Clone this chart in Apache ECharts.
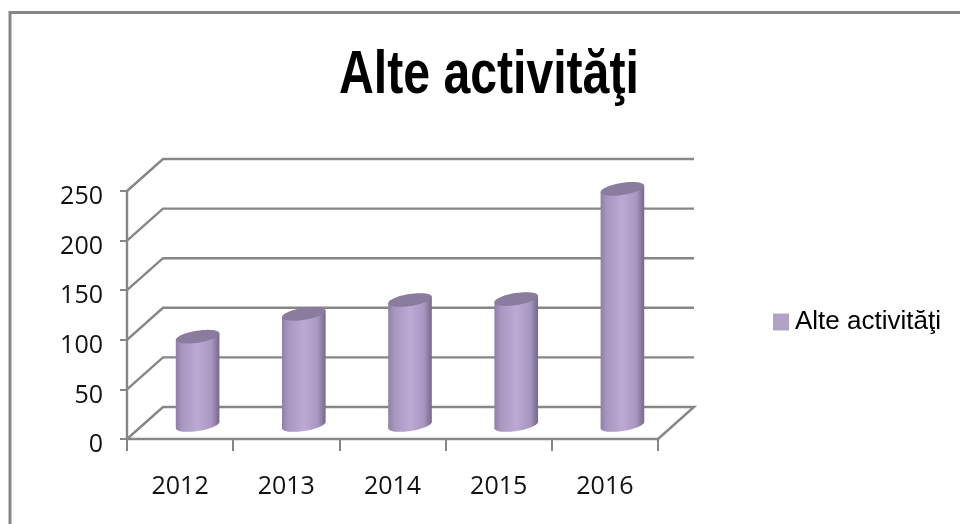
<!DOCTYPE html>
<html><head><meta charset="utf-8">
<style>html,body{margin:0;padding:0;background:#fff}#c{width:960px;height:524px}</style>
<script src="https://cdn.jsdelivr.net/npm/echarts@6/dist/echarts.min.js"></script>
</head><body><div id="c"></div>
<script>
const titleText = 'Alte activităţi';
const seriesName = 'Alte activităţi';
const categories = ['2012','2013','2014','2015','2016'];
const values = [89, 112, 126, 127, 238];
const yTicks = [0, 50, 100, 150, 200, 250];

const SANS = '"Liberation Sans",sans-serif';
const TICKFONT = '"Open Sans",sans-serif';
const GRID = '#868686';
const DEPTH_X = 36, DEPTH_Y = 32;
const BAR_DX = 17.5, BAR_DY = 14;
const TILT = -9 * Math.PI / 180;

function pt(cx, cy, rx, ry, t) {
  const x = rx * Math.cos(t), y = ry * Math.sin(t);
  return [cx + x * Math.cos(TILT) - y * Math.sin(TILT),
          cy + x * Math.sin(TILT) + y * Math.cos(TILT)];
}
function arc(cx, cy, rx, ry, t0, t1, n) {
  const pts = [];
  for (let i = 0; i <= n; i++) pts.push(pt(cx, cy, rx, ry, t0 + (t1 - t0) * i / n));
  return pts;
}

function renderWall(params, api) {
  const cs = params.coordSys;
  const v = api.value(1);
  const y = api.coord([0, v])[1];
  const xl = cs.x, xr = cs.x + cs.width;
  const line = { stroke: GRID, lineWidth: 2.4, fill: null };
  const pts = [[xl, y], [xl + DEPTH_X, y - DEPTH_Y], [xr + DEPTH_X, y - DEPTH_Y]];
  if (v === 0) pts.push([xr, y]);
  return { type: 'polyline', shape: { points: pts }, style: line, silent: true };
}

function renderBar(params, api) {
  const base = api.coord([api.value(0), 0]);
  const top = api.coord([api.value(0), api.value(1)]);
  const rx = api.size([1, 0])[0] * 0.208, ry = 6;
  const cx = base[0] + BAR_DX;
  const by = base[1] - BAR_DY, ty = top[1] - BAR_DY;
  const bottom = arc(cx, by, rx, ry, 0, Math.PI, 32);
  const rim = arc(cx, ty, rx, ry, 0, 2 * Math.PI, 48);
  const body = bottom.concat([pt(cx, ty, rx, ry, Math.PI), pt(cx, ty, rx, ry, 0)]);
  return { type: 'group', children: [
    { type: 'polygon', shape: { points: body }, style: { fill: {
      type: 'linear', x: 0, y: 0, x2: 1, y2: 0, colorStops: [
        { offset: 0, color: '#8f80a8' }, { offset: 0.14, color: '#a796bf' },
        { offset: 0.5, color: '#bcaad5' }, { offset: 0.82, color: '#a897c0' },
        { offset: 1, color: '#76678c' } ] } } },
    { type: 'polygon', shape: { points: rim }, style: { fill: '#8a7c9f' } }
  ] };
}

const chart = echarts.init(document.getElementById('c'), null, { renderer: 'canvas' });
chart.setOption({
  animation: false,
  backgroundColor: '#fff',
  legend: { data: [seriesName], left: 773, top: 309, padding: 0, itemWidth: 16, itemHeight: 17, itemGap: 0,
    icon: 'rect', textStyle: { fontFamily: SANS, fontSize: 26, color: '#000', padding: [0, 0, 0, 1] } },
  grid: { left: 127, top: 191, width: 531, height: 248 },
  xAxis: { type: 'category', data: categories,
    axisLine: { show: true, lineStyle: { color: GRID, width: 2.4 } },
    axisTick: { show: true, length: 12, alignWithLabel: false, lineStyle: { color: GRID, width: 2 } },
    axisLabel: { fontFamily: TICKFONT, fontSize: 25, color: '#111', margin: 35 } },
  yAxis: { type: 'value', min: 0, max: 250, interval: 50,
    splitLine: { show: false },
    axisLine: { show: true, lineStyle: { color: GRID, width: 2.4 } },
    axisTick: { show: true, length: 7, lineStyle: { color: GRID, width: 2 } },
    axisLabel: { fontFamily: TICKFONT, fontSize: 25, color: '#111', margin: 24, verticalAlign: 'top', lineHeight: 12 } },
  graphic: [
    { type: 'polyline', silent: true, z: -1,
      shape: { points: [[10, 524], [10, 12.5], [960, 12.5]] },
      style: { stroke: '#868686', lineWidth: 3, fill: null } },
    { type: 'text', silent: true, x: 339, y: 76, scaleX: 0.777,
      style: { text: titleText, font: 'bold 62px ' + SANS, fill: '#000', verticalAlign: 'middle', align: 'left' } }
  ],
  series: [
    { type: 'custom', name: 'walls', renderItem: renderWall, z: 1, silent: true,
      encode: { x: 0, y: 1 }, data: yTicks.map(v => [0, v]) },
    { type: 'custom', name: seriesName, renderItem: renderBar, z: 3,
      itemStyle: { color: '#b3a2c7' }, encode: { x: 0, y: 1 },
      data: values.map((v, i) => [i, v]) }
  ]
});
</script></body></html>
